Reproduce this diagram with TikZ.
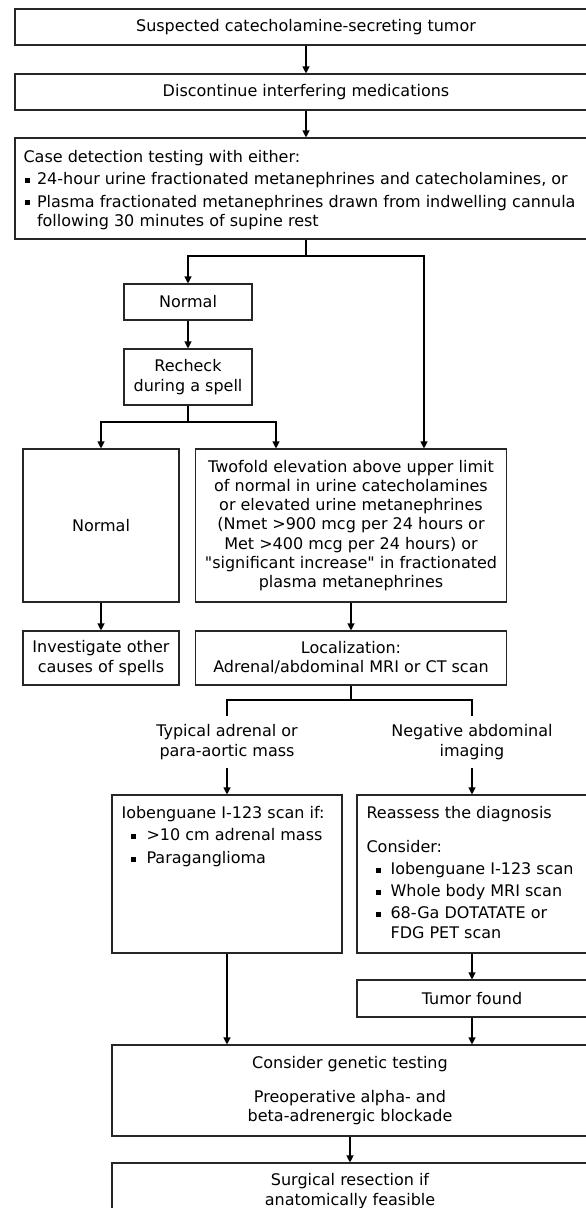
\documentclass[tikz,border=0pt]{standalone}
\usepackage{fontspec}
\setmainfont{DejaVu Sans}[Ligatures=TeXOff]
\usetikzlibrary{arrows.meta}
\newcommand{\sqb}{\rule[1.8pt]{5pt}{5pt}}
\begin{document}
\begin{tikzpicture}[x=1pt,y=-1pt,line width=1.1pt,
  >={Triangle[length=7pt,width=7pt]},
  box/.style={draw=black!85,inner sep=0pt,align=center,
    font=\fontsize{16}{19.3}\selectfont},
  txt/.style={inner sep=0pt,align=left,font=\fontsize{16}{19.3}\selectfont},
  lbl/.style={inner sep=8pt,align=center,font=\fontsize{16}{19.3}\selectfont}]
 \useasboundingbox (0,0) rectangle (586,1208);
 \clip (0,0) rectangle (586,1208);
 %
 \node[box,minimum width=582,minimum height=36] (tumor) at (306,27) {Suspected catecholamine-secreting tumor};
 \node[box,minimum width=582,minimum height=36] (discont) at (306,92) {Discontinue interfering medications};
 \node[box,minimum width=582,minimum height=101] (detect) at (306,188.5) {};
 \node[txt,anchor=west] (detecttext) at (23,190) {Case detection testing with either:\\[3pt]
   \hspace*{1.5pt}\makebox[12pt][l]{\sqb}24-hour urine fractionated metanephrines and catecholamines, or\\[3pt]
   \hspace*{1.5pt}\makebox[12pt][l]{\sqb}Plasma fractionated metanephrines drawn from indwelling cannula\\
   \hspace*{13.5pt}following 30 minutes of supine rest};
 %
 \coordinate (j1) at (306,256);
 \node[box,minimum width=128,minimum height=36] (normal) at (188,302) {Normal};
 \node[box,minimum width=128,minimum height=56] (recheck) at (188,377) {Recheck\\during a spell};
 \coordinate (j2) at (188,422);
 \node[box,minimum width=156,minimum height=153] (normalb) at (101,525.5) {Normal};
 \node[box,minimum width=311,minimum height=153] (twofold) at (351,525.5) {Twofold elevation above upper limit\\of normal in urine catecholamines\\or elevated urine metanephrines\\(Nmet >900 mcg per 24 hours or\\Met >400 mcg per 24 hours) or\\"significant increase" in fractionated\\plasma metanephrines};
 \node[box,minimum width=156,minimum height=54] (investigate) at (101,658) {Investigate other\\causes of spells};
 \node[box,minimum width=311,minimum height=54] (local) at (351,658) {Localization:\\Adrenal/abdominal MRI or CT scan};
 %
 \coordinate (j3) at (351,700);
 \node[lbl] (typical) at (227,742) {Typical adrenal or\\para-aortic mass};
 \node[lbl] (negative) at (472,742) {Negative abdominal\\imaging};
 \node[box,minimum width=230,minimum height=158] (ioben) at (227,874) {};
 \node[txt,anchor=north west] (iobentext) at (121,806) {Iobenguane I-123 scan if:\\[2.7pt]
   \hspace*{9pt}\makebox[16pt][l]{\sqb}>10 cm adrenal mass\\[3.5pt]
   \hspace*{9pt}\makebox[16pt][l]{\sqb}Paraganglioma};
 \node[box,minimum width=230,minimum height=158] (reassess) at (472,874) {};
 \node[txt,anchor=north west] (reassesstext) at (366,806) {Reassess the diagnosis\\[14.7pt]
   Consider:\\[2.7pt]
   \hspace*{9pt}\makebox[15pt][l]{\sqb}Iobenguane I-123 scan\\[2.7pt]
   \hspace*{9pt}\makebox[15pt][l]{\sqb}Whole body MRI scan\\[2.7pt]
   \hspace*{9pt}\makebox[15pt][l]{\sqb}68-Ga DOTATATE or\\
   \hspace*{24pt}FDG PET scan};
 \node[box,minimum width=230,minimum height=37] (found) at (472,998.5) {Tumor found};
 \node[box,minimum width=476,minimum height=91] (consider) at (350,1090.5) {Consider genetic testing\\[14.7pt]Preoperative alpha- and\\beta-adrenergic blockade};
 \node[box,minimum width=476,minimum height=56] (surgical) at (350,1191) {Surgical resection if\\anatomically feasible};
 %
 \draw[->] (tumor) -- (discont);
 \draw[->] (discont) -- (detect);
 \draw (detect.south) -- (j1);
 \draw[->] (j1) -| (normal.north);
 \draw[->] (j1) -| ([xshift=73pt]twofold.north);
 \draw[->] (normal) -- (recheck);
 \draw (recheck.south) -- (j2);
 \draw[->] (j2) -| (normalb.north);
 \draw[->] (j2) -| ([xshift=-75pt]twofold.north);
 \draw[->] (normalb) -- (investigate);
 \draw[->] (twofold) -- (local);
 %
 \draw (local.south) -- (j3);
 \draw (typical.north) |- (j3) -| (negative.north);
 \draw[->] (typical) -- (ioben);
 \draw[->] (negative) -- (reassess);
 \draw[->] (reassess) -- (found);
 \draw[->] (ioben.south) -- (ioben.south |- consider.north);
 \draw[->] (found.south) -- (found.south |- consider.north);
 \draw[->] (consider) -- (surgical);
\end{tikzpicture}
\end{document}
